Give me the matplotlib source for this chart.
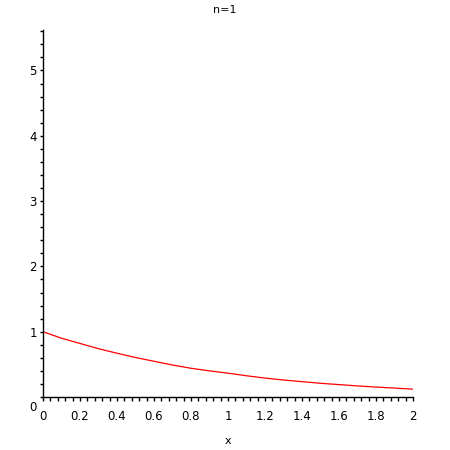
import matplotlib
matplotlib.use("Agg")
import matplotlib.pyplot as plt
from matplotlib.ticker import MultipleLocator, FixedLocator
from matplotlib.transforms import ScaledTranslation

x_vals = [0.0, 0.1, 0.2, 0.3, 0.4, 0.5, 0.6, 0.7, 0.8, 0.9, 1.0,
          1.1, 1.2, 1.3, 1.4, 1.5, 1.6, 1.7, 1.8, 1.9, 2.0]
y_vals = [1.0, 0.90, 0.82, 0.74, 0.67, 0.605, 0.547, 0.49, 0.44, 0.40, 0.365,
          0.325, 0.29, 0.26, 0.235, 0.21, 0.19, 0.17, 0.152, 0.137, 0.12]
x_ticks = [0, 0.2, 0.4, 0.6, 0.8, 1, 1.2, 1.4, 1.6, 1.8, 2]
x_tick_labels = ["0", "0.2", "0.4", "0.6", "0.8", "1", "1.2", "1.4", "1.6", "1.8", "2"]
y_ticks = [0, 1, 2, 3, 4, 5]
y_tick_labels = ["0", "1", "2", "3", "4", "5"]
title = "n=1"
xlabel = "x"

plt.rcParams['font.family'] = ['DejaVu Sans']
fig = plt.figure(figsize=(4.5, 4.5), dpi=100)
ax = fig.add_axes([43/450, 53/450, 370/450, 367/450])
ax.plot(x_vals, y_vals, color="red", lw=0.9)
ax.set_xlim(0, 2)
ax.set_ylim(0, 5.62)
for s in ("top", "right"):
    ax.spines[s].set_visible(False)
for s in ("left", "bottom"):
    ax.spines[s].set_linewidth(1.0)
ax.xaxis.set_major_locator(FixedLocator(x_ticks))
ax.set_xticklabels(x_tick_labels)
ax.yaxis.set_major_locator(FixedLocator(y_ticks))
ax.set_yticklabels(y_tick_labels)
ax.xaxis.set_minor_locator(MultipleLocator(0.04))
ax.yaxis.set_minor_locator(MultipleLocator(0.2))
ax.tick_params(which="both", direction="out", labelsize=8.5, width=1.0)
ax.tick_params(axis="x", which="both", length=3, pad=6)
ax.tick_params(axis="y", which="both", length=2.5, pad=2)
# Maple puts the y "0" label slightly below the axis
for lab in ax.get_yticklabels():
    if lab.get_text() == "0":
        lab.set_transform(lab.get_transform() + ScaledTranslation(0, -9/100, fig.dpi_scale_trans))
fig.text(225/450, 1 - 10/450, title, ha="center", va="center", fontsize=8)
fig.text(228/450, 1 - 441/450, xlabel, ha="center", va="center", fontsize=8)
fig.savefig("out.png", dpi=100)
